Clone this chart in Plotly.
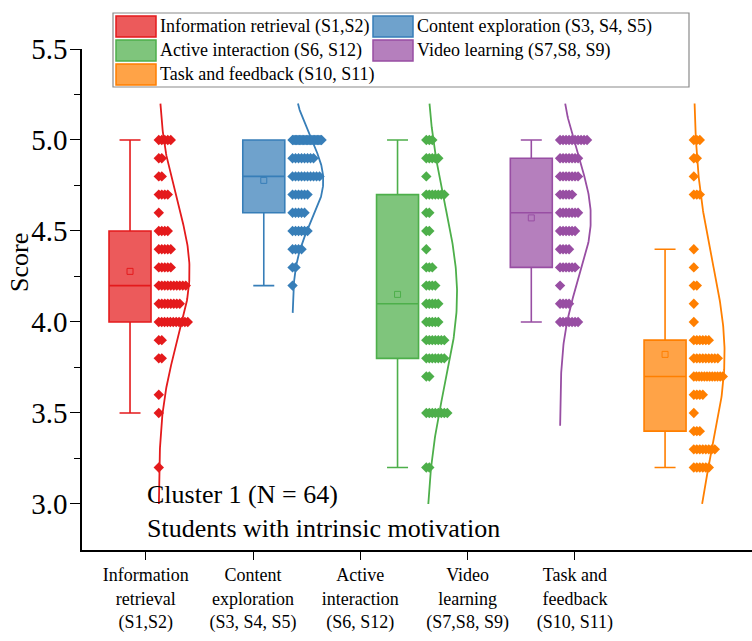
import numpy as np
import plotly.graph_objects as go

# ---- data -------------------------------------------------------------
groups = [
    "Information retrieval (S1,S2)",
    "Content exploration (S3, S4, S5)",
    "Active interaction (S6, S12)",
    "Video learning (S7,S8, S9)",
    "Task and feedback (S10, S11)",
]
tick_labels = [
    "Information<br>retrieval<br>(S1,S2)",
    "Content<br>exploration<br>(S3, S4, S5)",
    "Active<br>interaction<br>(S6, S12)",
    "Video<br>learning<br>(S7,S8, S9)",
    "Task and<br>feedback<br>(S10, S11)",
]
colors = ["#E41A1C", "#377EB8", "#4DAF4A", "#984EA3", "#FF7F00"]

# score levels and number of students at each level (N = 64 per dimension)
ir_levels = [3.2, 3.5, 3.6, 3.8, 3.9, 4.0, 4.1, 4.2, 4.3, 4.4, 4.5, 4.6, 4.7, 4.8, 4.9, 5.0]
ir_counts = [1, 1, 1, 2, 2, 11, 8, 10, 5, 5, 4, 1, 4, 2, 2, 5]

ce_levels = [4.2, 4.3, 4.4, 4.5, 4.6, 4.7, 4.8, 4.9, 5.0]
ce_counts = [1, 2, 4, 6, 5, 6, 10, 8, 22]

ai_levels = [3.2, 3.5, 3.7, 3.8, 3.9, 4.0, 4.1, 4.2, 4.3, 4.4, 4.5, 4.6, 4.7, 4.8, 4.9, 5.0]
ai_counts = [2, 8, 2, 7, 7, 5, 5, 4, 3, 1, 2, 2, 7, 1, 5, 3]

vl_levels = [4.0, 4.1, 4.2, 4.3, 4.4, 4.5, 4.6, 4.7, 4.8, 4.9, 5.0]
vl_counts = [7, 4, 1, 6, 4, 6, 7, 5, 7, 7, 10]

tf_levels = [3.2, 3.3, 3.4, 3.5, 3.6, 3.7, 3.8, 3.9, 4.0, 4.1, 4.2, 4.3, 4.4, 4.7, 4.8, 4.9, 5.0]
tf_counts = [6, 8, 3, 1, 4, 12, 9, 6, 1, 1, 2, 1, 1, 3, 1, 2, 3]

levels = [ir_levels, ce_levels, ai_levels, vl_levels, tf_levels]
counts = [ir_counts, ce_counts, ai_counts, vl_counts, tf_counts]

# box statistics
q1 = [4.0, 4.6, 3.8, 4.3, 3.4]
median = [4.2, 4.8, 4.1, 4.6, 3.7]
q3 = [4.5, 5.0, 4.7, 4.9, 3.9]
lower_whisker = [3.5, 4.2, 3.2, 4.0, 3.2]
upper_whisker = [5.0, 5.0, 5.0, 5.0, 4.4]

# extent of the fitted normal curves
curve_low = [3.0, 4.05, 3.0, 3.43, 3.0]
curve_high = [5.2, 5.2, 5.2, 5.2, 5.2]

# ---- geometry ---------------------------------------------------------
W, H = 752, 641
ML, MR, MT, MB = 82, 0, 49, 91
PW, PH = W - ML - MR, H - MT - MB
x_range = [0.641, 5.650]
y_range = [2.747, 5.5]
px_per_unit = PW / (x_range[1] - x_range[0])

positions = [1, 2, 3, 4, 5]
tick_pos = [1.118 + 0.802 * i for i in range(5)]
box_width = 0.314
side_offset = 0.215          # start of the point cloud / curve baseline
curve_amp = 0.23             # peak width of the normal curve
point_step = 3.0 / px_per_unit
point_max_spread = 29 / px_per_unit

FONT = "Liberation Serif, Times New Roman, serif"


def rgba(hex_color, a):
    h = hex_color.lstrip("#")
    r, g, b = int(h[0:2], 16), int(h[2:4], 16), int(h[4:6], 16)
    return f"rgba({r},{g},{b},{a})"


fig = go.Figure()

for i, name in enumerate(groups):
    pos = positions[i]
    col = colors[i]
    vals = np.repeat(levels[i], counts[i])

    # box
    fig.add_trace(go.Box(
        x=[pos], q1=[q1[i]], median=[median[i]], q3=[q3[i]],
        lowerfence=[lower_whisker[i]], upperfence=[upper_whisker[i]],
        width=box_width, whiskerwidth=0.5,
        fillcolor=rgba(col, 0.72), line=dict(color=col, width=1.6),
        boxpoints=False, showlegend=False, name=name, hoverinfo="skip",
    ))

    # mean marker
    fig.add_trace(go.Scatter(
        x=[pos], y=[float(np.mean(vals))], mode="markers",
        marker=dict(symbol="square-open", size=6, color=col, line=dict(width=1)),
        showlegend=False, hoverinfo="skip",
    ))

    # individual scores, spread sideways within each score level
    xs, ys = [], []
    for lv, n in zip(levels[i], counts[i]):
        spread = min(point_max_spread, point_step * (n - 1))
        offs = np.linspace(0, spread, n) if n > 1 else np.array([0.0])
        xs.extend(pos + side_offset + offs)
        ys.extend([lv] * n)
    fig.add_trace(go.Scatter(
        x=xs, y=ys, mode="markers",
        marker=dict(symbol="diamond", size=8, color=col, line=dict(width=0)),
        showlegend=False, hoverinfo="skip",
    ))

    # normal curve fitted to the scores
    mu, sd = float(np.mean(vals)), float(np.std(vals, ddof=1))
    yy = np.linspace(curve_low[i], curve_high[i], 200)
    xx = pos + side_offset + curve_amp * np.exp(-0.5 * ((yy - mu) / sd) ** 2)
    fig.add_trace(go.Scatter(
        x=xx, y=yy, mode="lines", line=dict(color=col, width=1.8),
        showlegend=False, hoverinfo="skip",
    ))

# ---- legend (drawn in pixel units of the figure) ----------------------
def px_x(px):
    return (px - ML) / PW


def px_y(py):
    return (H - MB - py) / PH


shapes = [dict(type="rect", xref="paper", yref="paper",
               x0=px_x(113), x1=px_x(689), y0=px_y(87), y1=px_y(13),
               line=dict(color="#8a8a8a", width=1.2), fillcolor="white", layer="above")]
annotations = []
legend_cols = [116, 373]
legend_rows = [16, 40, 64]
for i, name in enumerate(groups):
    cx = legend_cols[i % 2]
    ry = legend_rows[i // 2]
    shapes.append(dict(type="rect", xref="paper", yref="paper",
                       x0=px_x(cx), x1=px_x(cx + 40), y0=px_y(ry + 21), y1=px_y(ry),
                       line=dict(color=colors[i], width=1.5),
                       fillcolor=rgba(colors[i], 0.72), layer="above"))
    annotations.append(dict(text=name, xref="paper", yref="paper",
                            x=px_x(cx + 42), y=px_y(ry + 10.5),
                            xanchor="left", yanchor="middle", showarrow=False,
                            font=dict(family=FONT, size=18, color="black")))

annotations.append(dict(
    text="Cluster 1 (N = 64)<br>Students with intrinsic motivation",
    xref="paper", yref="paper", x=px_x(145), y=px_y(478),
    xanchor="left", yanchor="top", align="left", showarrow=False,
    font=dict(family=FONT, size=26, color="black"),
))

# y-axis title
annotations.append(dict(
    text="Score", xref="paper", yref="paper", x=px_x(19), y=px_y(263),
    xanchor="center", yanchor="middle", textangle=-90, showarrow=False,
    font=dict(family=FONT, size=26, color="black"),
))

fig.update_layout(
    width=W, height=H,
    margin=dict(l=ML, r=MR, t=MT, b=MB, pad=0),
    paper_bgcolor="white", plot_bgcolor="white",
    shapes=shapes, annotations=annotations,
    showlegend=False,
    xaxis=dict(
        range=x_range, tickmode="array", tickvals=tick_pos, ticktext=tick_labels,
        showline=True, linecolor="black", linewidth=1.6,
        ticks="outside", ticklen=8, tickwidth=1.4, tickcolor="black",
        showgrid=False, zeroline=False,
        tickfont=dict(family=FONT, size=18, color="black"),
    ),
    yaxis=dict(
        range=y_range, tickmode="array", tickvals=[3.0, 3.5, 4.0, 4.5, 5.0, 5.5],
        ticktext=["3.0", "3.5", "4.0", "4.5", "5.0", "5.5"],
        showline=True, linecolor="black", linewidth=1.6,
        ticks="outside", ticklen=10, tickwidth=1.4, tickcolor="black",
        minor=dict(tickvals=[3.25, 3.75, 4.25, 4.75, 5.25], ticks="outside",
                   ticklen=6, tickwidth=1.2, tickcolor="black", showgrid=False),
        showgrid=False, zeroline=False, ticklabelstandoff=-3,
        tickfont=dict(family=FONT, size=29, color="black"),
    ),
)

fig.write_html("out.html")
